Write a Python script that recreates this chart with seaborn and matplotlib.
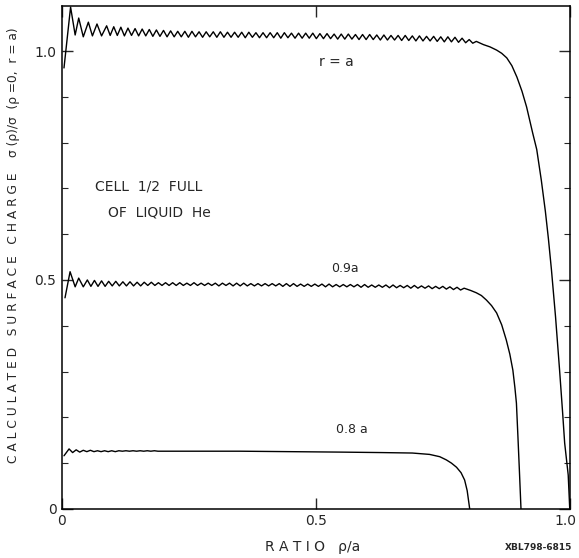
import numpy as np
import pandas as pd
import matplotlib
matplotlib.use("Agg")
import matplotlib.pyplot as plt
import matplotlib.transforms as mtransforms
import seaborn as sns

# --- data ---
RIPPLE_STEP = 0.007   # spacing between successive ripple extremes

# r = a
ra_head_x = [0.004, 0.017, 0.026, 0.033, 0.042, 0.052, 0.060, 0.069, 0.078, 0.088]
ra_head_y = [0.963, 1.096, 1.035, 1.072, 1.031, 1.063, 1.033, 1.059, 1.033, 1.055]
ra_ripple_x0 = 0.095
ra_ripple_y = [
    1.034, 1.053, 1.034, 1.052, 1.033, 1.050, 1.034, 1.049, 1.033, 1.048,
    1.033, 1.047, 1.032, 1.046, 1.032, 1.045,
    1.031, 1.044, 1.031, 1.043, 1.031, 1.043, 1.030, 1.043, 1.031, 1.042,
    1.030, 1.042, 1.031, 1.042, 1.030, 1.042, 1.030, 1.041, 1.030, 1.041,
    1.030, 1.041, 1.029, 1.041, 1.030, 1.040, 1.029, 1.040, 1.029, 1.040,
    1.029, 1.040, 1.028, 1.040, 1.029, 1.039, 1.028, 1.039, 1.028, 1.039,
    1.028, 1.039,
    1.027, 1.038, 1.027, 1.038, 1.027, 1.037, 1.026, 1.037, 1.026, 1.037,
    1.026, 1.036, 1.025, 1.036, 1.025, 1.036, 1.025, 1.035, 1.024, 1.035,
    1.024, 1.034, 1.024, 1.034, 1.023, 1.034, 1.023, 1.033, 1.022, 1.033,
    1.022, 1.032, 1.022, 1.032, 1.021, 1.031, 1.020, 1.031, 1.020, 1.030,
    1.019, 1.028, 1.018, 1.025, 1.017, 1.021,
]
ra_tail_x = [0.830, 0.843, 0.856, 0.866, 0.876, 0.886, 0.896, 0.906, 0.915, 0.927,
             0.935, 0.944, 0.952, 0.958, 0.964, 0.972, 0.980, 0.986, 0.990, 0.997,
             1.000]
ra_tail_y = [1.014, 1.009, 1.002, 0.995, 0.985, 0.968, 0.943, 0.912, 0.878, 0.821,
             0.785, 0.718, 0.650, 0.590, 0.522, 0.420, 0.303, 0.210, 0.144, 0.074,
             0.000]

# r = 0.9a
r09_head_x = [0.006, 0.016, 0.026, 0.033, 0.042, 0.050]
r09_head_y = [0.461, 0.518, 0.485, 0.504, 0.485, 0.500]
r09_ripple_x0 = 0.057
r09_ripple_y = [
    0.486, 0.499, 0.486, 0.498, 0.486, 0.497, 0.487, 0.497, 0.487, 0.496,
    0.487, 0.496, 0.487, 0.495, 0.487, 0.495, 0.488, 0.495, 0.488, 0.494,
    0.488, 0.494, 0.488, 0.494, 0.488, 0.494, 0.488, 0.493, 0.488, 0.494,
    0.488, 0.493, 0.488, 0.493, 0.488, 0.493, 0.487, 0.493, 0.488, 0.493,
    0.487, 0.493, 0.487, 0.493, 0.487, 0.492, 0.487, 0.492, 0.487, 0.492,
    0.487, 0.492, 0.487, 0.492, 0.486, 0.492, 0.486, 0.492, 0.486, 0.491,
    0.486, 0.491, 0.486, 0.491, 0.486, 0.491, 0.485, 0.491, 0.485, 0.490,
    0.485, 0.490, 0.485, 0.490, 0.485, 0.490, 0.484, 0.490, 0.484, 0.489,
    0.484, 0.489, 0.484, 0.489, 0.483, 0.489, 0.483, 0.488, 0.483, 0.488,
    0.482, 0.488, 0.482, 0.487, 0.482, 0.487, 0.481, 0.486, 0.481, 0.486,
    0.480, 0.485, 0.479, 0.484, 0.478, 0.482,
]
r09_tail_x = [0.805, 0.816, 0.826, 0.836, 0.846, 0.856, 0.866, 0.875, 0.882, 0.888,
              0.892, 0.895, 0.898, 0.901, 0.904]
r09_tail_y = [0.477, 0.472, 0.466, 0.456, 0.444, 0.428, 0.402, 0.369, 0.338, 0.303,
              0.265, 0.231, 0.157, 0.080, 0.000]

# r = 0.8a
r08_head_x = [0.004, 0.014, 0.021]
r08_head_y = [0.116, 0.131, 0.123]
r08_ripple_x0 = 0.028
r08_ripple_y = [
    0.129, 0.124, 0.128, 0.125, 0.128, 0.125, 0.127, 0.125, 0.127, 0.125,
    0.127, 0.125, 0.127, 0.126, 0.127, 0.126, 0.127, 0.126, 0.127, 0.126,
    0.127, 0.126, 0.127, 0.126,
]
r08_tail_x = [0.25, 0.35, 0.45, 0.55, 0.63, 0.69, 0.724, 0.744, 0.757, 0.767,
              0.777, 0.786, 0.793, 0.798, 0.803]
r08_tail_y = [0.126, 0.126, 0.125, 0.124, 0.123, 0.122, 0.119, 0.114, 0.107, 0.100,
              0.091, 0.079, 0.063, 0.040, 0.000]

curve_labels = ["r = a", "0.9a", "0.8 a"]


def build_curve(name, hx, hy, x0, ry, tx, ty):
    rx = x0 + RIPPLE_STEP * np.arange(len(ry))
    x = np.concatenate([hx, rx, tx])
    y = np.concatenate([hy, ry, ty])
    return pd.DataFrame({"rho": x, "sigma": y, "curve": name})


df = pd.concat([
    build_curve("r = a", ra_head_x, ra_head_y, ra_ripple_x0, ra_ripple_y, ra_tail_x, ra_tail_y),
    build_curve("0.9a", r09_head_x, r09_head_y, r09_ripple_x0, r09_ripple_y, r09_tail_x, r09_tail_y),
    build_curve("0.8 a", r08_head_x, r08_head_y, r08_ripple_x0, r08_ripple_y, r08_tail_x, r08_tail_y),
], ignore_index=True)

# --- plot ---
sns.set_style("ticks")
plt.rcParams["font.family"] = ["DejaVu Sans"]

fig = plt.figure(figsize=(5.79, 5.58), dpi=100)
ax = fig.add_axes([0.107, 0.088, 0.877, 0.901])

for name in curve_labels:
    sns.lineplot(data=df[df["curve"] == name], x="rho", y="sigma",
                 sort=False, estimator=None, color="black", lw=1.0, ax=ax)

ax.set_xlim(0, 1.0)
ax.set_ylim(0, 1.098)

ax.set_xticks([0, 0.5, 1.0])
ax.set_xticklabels(["0", "0.5", "1.0"])
ax.set_yticks([0, 0.5, 1.0])
ax.set_yticklabels(["0", "0.5", "1.0"])
ax.set_yticks(np.arange(0.1, 1.05, 0.1), minor=True)
ax.tick_params(which="both", direction="in", top=True, right=True, labelsize=10, pad=4)
ax.tick_params(which="major", length=8, width=1.0)
ax.tick_params(which="minor", length=4, width=0.8)
for s in ax.spines.values():
    s.set_linewidth(1.1)
    s.set_color("black")

# keep the right-most x tick label inside the canvas
last = ax.get_xticklabels()[-1]
last.set_transform(last.get_transform() +
                   mtransforms.ScaledTranslation(-3 / 72, 0, fig.dpi_scale_trans))

ax.set_xlabel("R A T I O   ρ/a", fontsize=10)
ax.xaxis.set_label_coords(0.494, -0.062)
ax.set_ylabel("C A L C U L A T E D   S U R F A C E   C H A R G E    σ (ρ)/σ  (ρ =0,  r = a)",
              fontsize=8.8)
ax.yaxis.set_label_coords(-0.083, 0.525)

# curve labels
ax.text(0.54, 0.976, "r = a", fontsize=10, ha="center", va="center")
ax.text(0.557, 0.526, "0.9a", fontsize=9, ha="center", va="center")
ax.text(0.571, 0.173, "0.8 a", fontsize=9, ha="center", va="center")
ax.text(0.065, 0.705, "CELL  1/2  FULL", fontsize=10, ha="left", va="center")
ax.text(0.09, 0.648, "OF  LIQUID  He", fontsize=10, ha="left", va="center")

fig.text(0.872, 0.018, "XBL798-6815", fontsize=6.5, fontweight="bold", ha="left", va="center")

fig.savefig("out.png", dpi=100)
